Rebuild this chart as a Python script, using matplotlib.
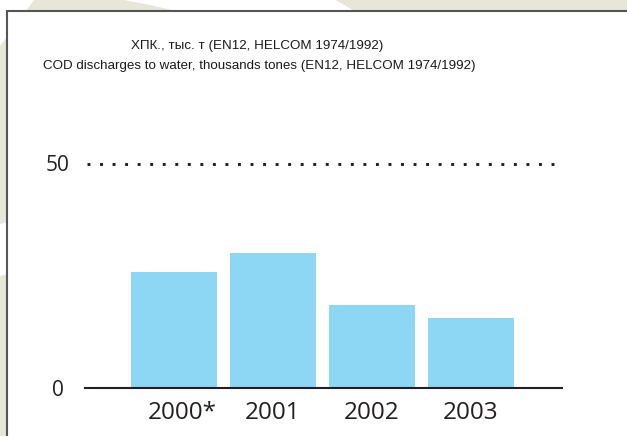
import matplotlib
matplotlib.use("Agg")
import matplotlib.pyplot as plt
from matplotlib.patches import Polygon, Rectangle

# data
years = ["2000*", "2001", "2002", "2003"]
cod = [25.8, 30.0, 18.4, 15.7]
ref_level = 50
yticks = [0, 50]

W, H = 627, 436
INK = "#231f20"
BEIGE = "#e6e6d9"
BAR = "#8dd7f5"


def px(x, y):
    # pixel coords (origin top-left) -> figure fraction
    return (x / W, 1 - y / H)


fig = plt.figure(figsize=(W / 100, H / 100), dpi=100, facecolor=BEIGE)

# light diagonal streaks in the beige backdrop
for pts in ([(0, 0), (34, 0), (0, 46)],
            [(124, 0), (336, 0), (356, 12), (180, 12), (150, 5)],
            [(0, 224), (8, 222), (8, 274), (0, 276)]):
    fig.patches.append(Polygon([px(*p) for p in pts], closed=True,
                               transform=fig.transFigure, facecolor="white",
                               edgecolor="none", zorder=0))

# white panel with dark frame, running off the right/bottom edge
x0, y0 = px(6.5, 11.5)
fig.patches.append(Rectangle((x0, -0.1), 1.2, y0 + 0.1,
                             transform=fig.transFigure, facecolor="white",
                             edgecolor="#555555", linewidth=1.5, zorder=1))

ax = fig.add_axes([85 / W, 1 - 388 / H, 477 / W, 246.9 / H])
ax.set_zorder(3)
ax.set_facecolor("none")

xs = list(range(len(years)))
ax.bar(xs, cod, width=0.87, color=BAR, zorder=1)

ax.plot([-0.88, 3.88], [ref_level, ref_level], color=INK, linewidth=2.1,
        linestyle=(0, (1, 3.3)), dash_capstyle="butt", zorder=2)

ax.set_xlim(-0.9, 3.92)
ax.set_ylim(0, 55)
for side in ("top", "right", "left"):
    ax.spines[side].set_visible(False)
ax.spines["bottom"].set_color(INK)
ax.spines["bottom"].set_linewidth(1.5)
ax.set_xticks([])
ax.set_yticks([])

# year labels under the bars ("2000*" sits a little right, digits centred)
for i, lbl in enumerate(years):
    dx = 6 if lbl.endswith("*") else 0
    ax.annotate(lbl, xy=(xs[i], 0), xytext=(dx, -22.5),
                textcoords="offset points", ha="center", va="baseline",
                fontsize=17.5, family="Open Sans", color=INK,
                annotation_clip=False)

# value axis labels, centred left of the plot
for v in yticks:
    ax.annotate(str(v), xy=(-0.9, v), xytext=(-19.5, -5.6),
                textcoords="offset points", ha="center", va="baseline",
                fontsize=15, family="Open Sans", color=INK,
                annotation_clip=False)

title_font = ["Liberation Sans", "DejaVu Sans"]
fig.text(*px(257, 49.3), "ХПК., тыс. т (EN12, HELCOM 1974/1992)",
         ha="center", va="baseline", fontsize=9.6, family=title_font,
         color="#1a1a1a", zorder=4)
fig.text(*px(259, 69.3),
         "COD discharges to water, thousands tones (EN12, HELCOM 1974/1992)",
         ha="center", va="baseline", fontsize=9.6, family=title_font,
         color="#1a1a1a", zorder=4)

fig.savefig("out.png", dpi=100, facecolor=BEIGE)
